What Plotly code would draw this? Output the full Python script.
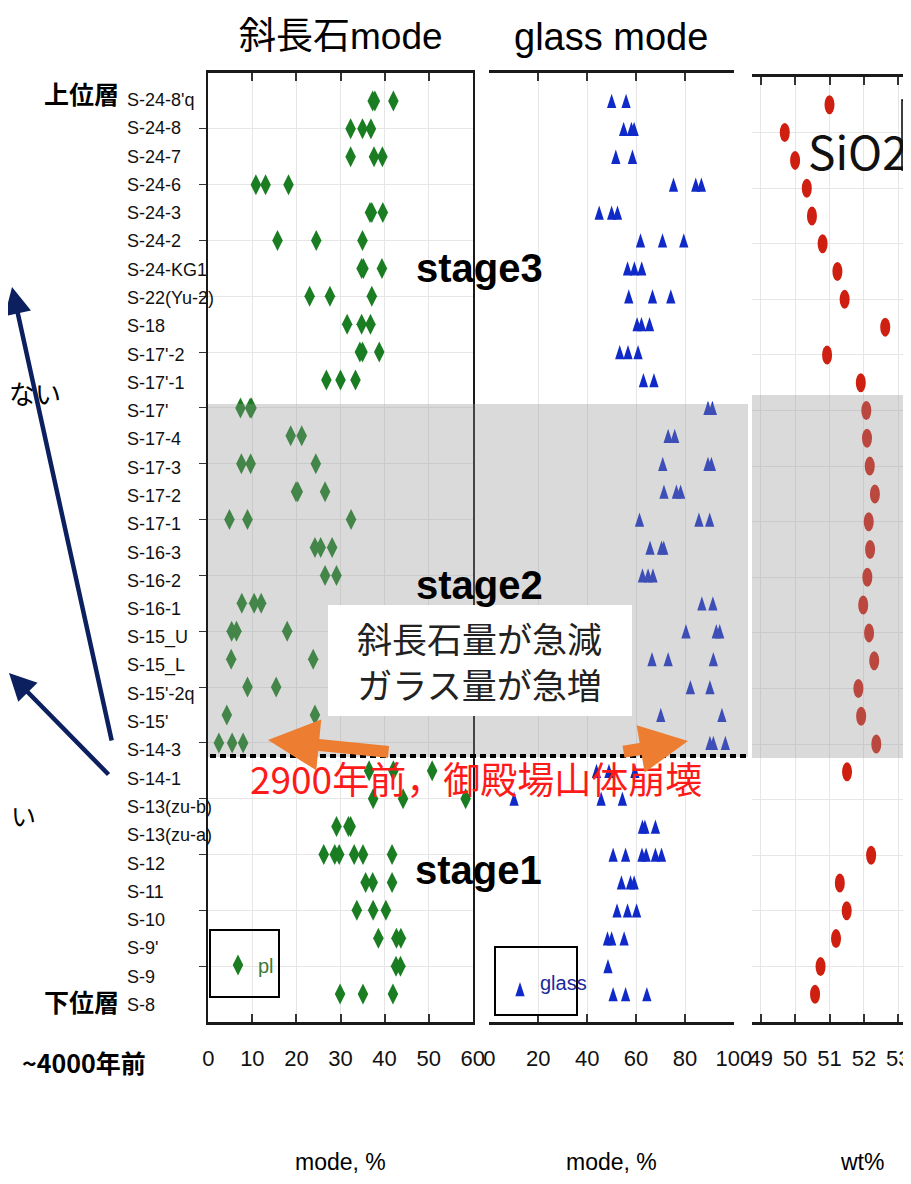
import plotly.graph_objects as go

# ---------------- data ----------------
samples = ["S-24-8'q", "S-24-8", "S-24-7", "S-24-6", "S-24-3", "S-24-2", "S-24-KG1",
           "S-22(Yu-2)", "S-18", "S-17'-2", "S-17'-1", "S-17'", "S-17-4", "S-17-3",
           "S-17-2", "S-17-1", "S-16-3", "S-16-2", "S-16-1", "S-15_U", "S-15_L",
           "S-15'-2q", "S-15'", "S-14-3", "S-14-1", "S-13(zu-b)", "S-13(zu-a)",
           "S-12", "S-11", "S-10", "S-9'", "S-9", "S-8"]

pl_mode = [
    [37.3, 37.8, 42.0], [32.3, 35.0, 36.9], [32.3, 37.6, 39.5], [10.8, 13.0, 18.2],
    [36.7, 37.1, 39.6], [15.7, 24.5, 35.0], [34.8, 35.2, 39.4], [23.0, 27.6, 37.1],
    [31.5, 34.8, 36.8], [34.4, 35.0, 38.8], [26.8, 30.0, 33.4], [7.3, 9.5, 9.8],
    [18.7, 21.2], [7.5, 9.6, 24.4], [19.9, 20.3, 26.5], [4.8, 8.9, 32.4],
    [24.2, 25.5, 28.1], [26.5, 29.1], [7.6, 10.4, 12.0], [5.3, 6.4, 17.9],
    [5.2, 23.8], [8.9, 15.4], [4.2, 24.2], [2.4, 5.4, 7.9],
    [36.5, 42.0, 50.8], [37.4, 44.2, 58.4], [29.1, 31.8, 32.3],
    [26.2, 28.7, 29.7, 33.1, 35.1, 41.7], [35.7, 37.3, 41.7], [33.7, 37.4, 40.3],
    [38.6, 42.7, 43.7], [42.6, 43.6], [29.9, 35.1, 41.9],
]

glass_mode = [
    [50.0, 55.9], [54.9, 58.1, 59.2], [51.7, 58.5], [75.3, 84.4, 86.7],
    [44.9, 50.0, 52.4], [61.8, 70.8, 79.5], [56.5, 59.3, 62.3], [57.0, 66.7, 74.2],
    [60.4, 62.2, 65.5], [53.3, 56.7, 60.8], [63.0, 67.3], [89.4, 91.2],
    [73.1, 75.8], [70.9, 89.4, 90.8], [71.4, 76.5, 78.2], [61.4, 85.7, 90.1],
    [65.7, 70.4, 71.3], [62.6, 64.9, 66.9], [86.9, 91.4], [80.4, 92.8, 94.2],
    [66.5, 73.1, 91.6], [82.2, 90.2], [70.1, 95.1], [90.2, 91.6, 96.5],
    [43.8, 48.9, 59.5], [10.1, 45.7, 54.4], [62.6, 63.6, 67.9],
    [50.6, 55.7, 62.4, 64.1, 67.9, 70.4], [54.0, 57.7, 59.2], [52.2, 56.5, 60.2],
    [48.3, 50.0, 55.1], [48.5], [50.6, 55.7, 64.4],
]

sio2_wt = [51.00, 49.70, 50.00, 50.34, 50.49, 50.80, 51.23, 51.44, 52.62, 50.93,
           51.91, 52.07, 52.09, 52.17, 52.32, 52.14, 52.18, 52.10, 51.98, 52.15,
           52.30, 51.84, 51.92, 52.36, 51.51, None, 53.46, 52.21, 51.30, 51.50,
           51.19, 50.74, 50.58]

pl_ticks = [0, 10, 20, 30, 40, 50, 60]
glass_ticks = [0, 20, 40, 60, 80, 100]
sio2_ticks = [49, 50, 51, 52, 53]
row_ticks = list(range(1, 32, 2))

# ---------------- layout helpers ----------------
# the page body has an 8px margin, so the figure is drawn smaller and
# every design position (measured on the 911x1184 page) is shifted by 8px
OFF = 8
W, H = 911 - OFF, 1184 - 2 * OFF
def px(x):
    return (x - OFF) / W
def py(y):
    return 1 - (y - OFF) / H

NARROW = "Liberation Sans Narrow, Arial Narrow, Liberation Sans, Noto Sans CJK JP, sans-serif"
CJK = "Noto Sans CJK JP, sans-serif"
GREEN = "#1a7d22"
BLUE = "#0f2ac8"
RED = "#cf1f10"
GRID = "#e6e6e6"
FRAME = "#1a1a1a"

pl_x, pl_y = [], []
for i, vals in enumerate(pl_mode):
    for v in vals:
        pl_x.append(v)
        pl_y.append(i)
gl_x, gl_y = [], []
for i, vals in enumerate(glass_mode):
    for v in vals:
        gl_x.append(v)
        gl_y.append(i)

fig = go.Figure()
fig.add_trace(go.Scatter(x=pl_x, y=pl_y, mode="markers", name="pl",
                         marker=dict(symbol="diamond-tall", size=15, color=GREEN),
                         xaxis="x", yaxis="y", legend="legend"))
fig.add_trace(go.Scatter(x=gl_x, y=gl_y, mode="markers", name="glass",
                         marker=dict(symbol="arrow", size=15, color=BLUE),
                         xaxis="x2", yaxis="y5", legend="legend2"))

Y_RANGE = [33, -1]
ROW_PX = (1022 - 73) / 34.0
shift = 0.475 * 15 / ROW_PX  # centre the apex-anchored triangles on their rows

common_x = dict(ticks="inside", ticklen=8, tickwidth=1.5, tickcolor="#333",
                showline=True, linecolor=FRAME, linewidth=2.5, mirror="ticks",
                showgrid=True, gridcolor=GRID, zeroline=False,
                tickfont=dict(family=NARROW, size=22, color="#111"),
                ticklabelstandoff=15)
common_y = dict(range=Y_RANGE, tickvals=row_ticks, ticks="outside", ticklen=7,
                tickcolor="#333", showticklabels=False, showline=True,
                linecolor=FRAME, linewidth=2, mirror=True, showgrid=True,
                gridcolor=GRID, zeroline=False)
right_ticks = dict(range=Y_RANGE, tickvals=row_ticks, ticks="inside", ticklen=7,
                   tickcolor="#333", showticklabels=False, showline=False,
                   showgrid=False, zeroline=False, side="right")

fig.update_layout(
    width=W, height=H, margin=dict(l=0, r=0, t=0, b=0, autoexpand=False),
    paper_bgcolor="white", plot_bgcolor="white",
    xaxis=dict(domain=[px(208.3), px(472.7)], range=[0, 60], tickvals=pl_ticks,
               anchor="y", **common_x),
    yaxis=dict(domain=[py(1022), py(73)], anchor="x", **common_y),
    yaxis7=dict(domain=[py(1022), py(73)], anchor="x", overlaying="y", **right_ticks),
    xaxis2=dict(domain=[px(489.4), px(733.9)], range=[0, 100], tickvals=glass_ticks,
                anchor="y2", **common_x),
    yaxis2=dict(domain=[py(1022), py(73)], anchor="x2", **common_y),
    yaxis8=dict(domain=[py(1022), py(73)], anchor="x2", overlaying="y2", **right_ticks),
    yaxis5=dict(domain=[py(1022), py(73)], anchor="x2", overlaying="y2",
                range=[Y_RANGE[0] + shift, Y_RANGE[1] + shift], visible=False),
    xaxis3=dict(domain=[px(751.5), 1.0], range=[48.733, 53.369], tickvals=sio2_ticks,
                anchor="y3", **common_x),
    yaxis3=dict(domain=[py(1022), py(77)], anchor="x3", range=Y_RANGE,
                tickvals=row_ticks, showticklabels=False, ticks="",
                showline=False, showgrid=True, gridcolor=GRID, zeroline=False),
    xaxis4=dict(domain=[px(738), px(746)], range=[0, 100], tickvals=[0], anchor="y4",
                showline=True, linecolor=FRAME, linewidth=2, mirror=True, ticks="",
                showgrid=False, zeroline=False,
                tickfont=dict(family=NARROW, size=22, color="#111"),
                ticklabelstandoff=15),
    yaxis4=dict(domain=[py(1022), py(72)], anchor="x4", range=Y_RANGE,
                tickvals=row_ticks, ticks="inside", ticklen=7, tickcolor="#333",
                showticklabels=False, showline=True, linecolor=FRAME, linewidth=2,
                showgrid=False, zeroline=False),
    yaxis6=dict(domain=[py(1022), py(73)], anchor="x", overlaying="y",
                range=[32.60, -0.955], visible=False),
    showlegend=True,
    legend=dict(x=px(218), y=py(965), xanchor="left", yanchor="middle",
                bgcolor="rgba(0,0,0,0)", borderwidth=0,
                font=dict(family=NARROW, size=20, color="#3a7a3a")),
    legend2=dict(x=px(500), y=py(982), xanchor="left", yanchor="middle",
                 bgcolor="rgba(0,0,0,0)", borderwidth=0,
                 font=dict(family=NARROW, size=20, color="#1a2a9a")),
)

shapes = []
# SiO2 points drawn as tall ellipses anchored to data values
for i, v in enumerate(sio2_wt):
    if v is None:
        continue
    shapes.append(dict(type="circle", xref="x3", yref="y3", xsizemode="pixel",
                       ysizemode="pixel", xanchor=v, yanchor=i, x0=-5, x1=5,
                       y0=-9.5, y1=9.5, fillcolor=RED, line=dict(width=0), layer="above"))
# translucent gray band (stage 2)
shapes.append(dict(type="rect", xref="paper", yref="paper", x0=px(208), x1=px(748),
                   y0=py(757), y1=py(404), fillcolor="rgba(150,150,150,0.35)",
                   line=dict(width=0), layer="above"))
shapes.append(dict(type="rect", xref="paper", yref="paper", x0=px(752), x1=1.0,
                   y0=py(758), y1=py(395), fillcolor="rgba(150,150,150,0.35)",
                   line=dict(width=0), layer="above"))
# dotted boundary line
shapes.append(dict(type="line", xref="paper", yref="paper", x0=px(210), x1=px(748),
                   y0=py(756), y1=py(756), line=dict(color="black", width=4, dash="6px,4px"),
                   layer="above"))
# white text box
shapes.append(dict(type="rect", xref="paper", yref="paper", x0=px(328), x1=px(632),
                   y0=py(716), y1=py(605), fillcolor="white", line=dict(width=0),
                   layer="above"))
# legend boxes
shapes.append(dict(type="rect", xref="paper", yref="paper", x0=px(210), x1=px(279),
                   y0=py(997), y1=py(930), line=dict(color="black", width=2),
                   fillcolor="rgba(0,0,0,0)", layer="above"))
shapes.append(dict(type="rect", xref="paper", yref="paper", x0=px(495), x1=px(577),
                   y0=py(1015), y1=py(947), line=dict(color="black", width=2),
                   fillcolor="rgba(0,0,0,0)", layer="above"))
# SiO2 legend box (cut at the right edge)
shapes.append(dict(type="rect", xref="paper", yref="paper", x0=px(902), x1=px(990),
                   y0=py(170), y1=py(100), line=dict(color="black", width=1.5),
                   fillcolor="rgba(0,0,0,0)", layer="above"))
fig.update_layout(shapes=shapes)

ann = []
# sample labels
for i, s in enumerate(samples):
    ann.append(dict(x=px(125), xref="paper", y=i, yref="y6", text=s, showarrow=False,
                    xanchor="left", yanchor="middle",
                    font=dict(family="Liberation Sans, Arial, sans-serif", size=18,
                              color="#111")))

def txt(x, y, text, size, family=CJK, color="black", xanchor="center", weight="normal"):
    ann.append(dict(x=px(x), y=py(y), xref="paper", yref="paper", text=text,
                    showarrow=False, xanchor=xanchor, yanchor="middle",
                    font=dict(family=family, size=size, color=color, weight=weight)))

txt(341, 37, "斜長石mode", 37, family=NARROW)
txt(611, 37, "glass mode", 38, family=NARROW)
txt(340, 1162, "mode, %", 23, family=NARROW)
txt(611, 1162, "mode, %", 23, family=NARROW)
txt(862, 1162, "wt%", 23, family=NARROW)
txt(121, 93, "上位層", 25, xanchor="right", weight="bold")
txt(121, 1001, "下位層", 25, xanchor="right", weight="bold")
txt(148, 1062, "~4000年前", 25, xanchor="right", weight="bold")
txt(63, 393, "ない", 26, xanchor="right")
txt(9, 815, "い", 25, xanchor="left")
txt(480, 268, "stage3", 40, family="Liberation Sans, Arial, sans-serif", weight="bold")
txt(480, 585, "stage2", 40, family="Liberation Sans, Arial, sans-serif", weight="bold")
txt(478, 870, "stage1", 40, family="Liberation Sans, Arial, sans-serif", weight="bold")
txt(480, 660, "斜長石量が急減<br>ガラス量が急増", 35, color="#222")
txt(476, 778, "2900年前，御殿場山体崩壊", 37, color="#ff1a1a")
txt(806, 150, "SiO2", 46, xanchor="left", color="#111")

# arrows
def arrow(hx, hy, tx, ty, color, width, size):
    ann.append(dict(x=px(hx), y=py(hy), xref="paper", yref="paper", ax=tx - hx,
                    ay=ty - hy, axref="pixel", ayref="pixel", text="", showarrow=True,
                    arrowhead=2, arrowsize=size, arrowwidth=width, arrowcolor=color))

arrow(12, 287, 112, 742, "#0c1f5e", 4.5, 1.2)
arrow(8, 673, 110, 776, "#0c1f5e", 4.5, 1.2)
arrow(268, 740, 390, 752, "#ed7d31", 12, 0.85)
arrow(688, 741, 622, 752, "#ed7d31", 12, 0.8)

fig.update_layout(annotations=ann)
fig.write_html("out.html")
